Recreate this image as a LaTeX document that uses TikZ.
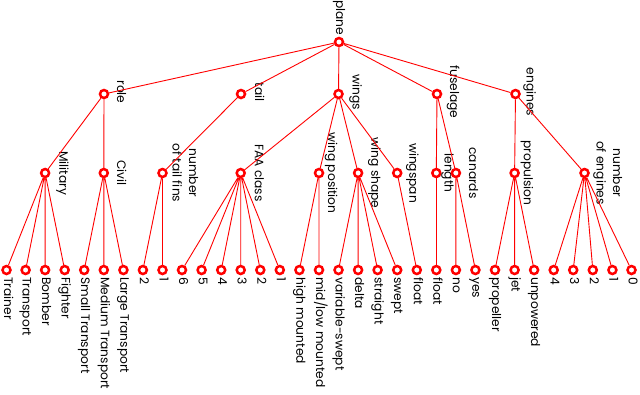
\documentclass[tikz,border=0pt]{standalone}
\usepackage{fontspec}
\setmainfont{Poppins}
\usepackage{tikz}
\usetikzlibrary{calc}

\begin{document}
\begin{tikzpicture}[
  x=1bp,y=-1bp,
  nd/.style={circle,draw=red,line width=2.5bp,fill=white,minimum size=8bp,inner sep=0pt},
  txt/.style={font=\fontsize{12.3}{16.5}\selectfont,rotate=-90,inner sep=0pt},
  side/.style={txt,anchor=south,text depth=0pt,align=center},
  lf/.style={txt,anchor=base west},
  ln/.style={red,line width=0.9bp}]
\useasboundingbox (0,0) rectangle (640,394);
% ---- root and first level ----
\node[nd] (plane) at (339,42) {};
\node[txt,anchor=base east] (tplane) at (336,35.5) {plane};
\node[nd] (role) at (104,94) {};
\node[side] (trole) at ($(role)+(13,-2)$) {role};
\node[nd] (tail) at (241,94) {};
\node[side] (ttail) at ($(tail)+(14,-2)$) {tail};
\node[nd] (wings) at (338.5,94) {};
\node[side] (twings) at ($(wings)+(14,-2)$) {wings};
\node[nd] (fuselage) at (437,94) {};
\node[side] (tfuselage) at ($(fuselage)+(13,-2)$) {fuselage};
\node[nd] (engines) at (515.5,94) {};
\node[side] (tengines) at ($(engines)+(11,-2)$) {engines};
% ---- second level ----
\node[nd] (military) at (45.1,173) {};
\node[side] (tmilitary) at ($(military)+(14,0)$) {Military};
\node[nd] (civil) at (103.8,173) {};
\node[side] (tcivil) at ($(civil)+(13,0)$) {Civil};
\node[nd] (tailfins) at (162.5,173) {};
\node[side] (ttailfins) at ($(tailfins)+(10,0)$) {number\\of tail fins};
\node[nd] (faa) at (240.7,173) {};
\node[side] (tfaa) at ($(faa)+(14,0)$) {FAA class};
\node[nd] (wingpos) at (319,173) {};
\node[side] (twingpos) at ($(wingpos)+(9,0)$) {wing position};
\node[nd] (wingshape) at (358.1,173) {};
\node[side] (twingshape) at ($(wingshape)+(13,0)$) {wing shape};
\node[nd] (wingspan) at (397.2,173) {};
\node[side] (twingspan) at ($(wingspan)+(12,0)$) {wingspan};
\node[nd] (length) at (436.3,173) {};
\node[side] (tlength) at ($(length)+(8,0)$) {length};
\node[nd] (canards) at (455.9,173) {};
\node[side] (tcanards) at ($(canards)+(13,0)$) {canards};
\node[nd] (propulsion) at (514.6,173) {};
\node[side] (tpropulsion) at ($(propulsion)+(9,0)$) {propulsion};
\node[nd] (numeng) at (584.5,173) {};
\node[side] (tnumeng) at ($(numeng)+(12,0)$) {number\\of engines};
% ---- leaves ----
\node[nd] (trainer) at (6.5,270) {};
\node[lf] (ttrainer) at ($(trainer)+(-2.5,7)$) {Trainer};
\node[nd] (transport) at (25.6,270) {};
\node[lf] (ttransport) at ($(transport)+(-3,7)$) {Transport};
\node[nd] (bomber) at (45.1,270) {};
\node[lf] (tbomber) at ($(bomber)+(-3,7)$) {Bomber};
\node[nd] (fighter) at (64.7,270) {};
\node[lf] (tfighter) at ($(fighter)+(-3,7)$) {Fighter};
\node[nd] (smalltr) at (84.2,270) {};
\node[lf] (tsmalltr) at ($(smalltr)+(-3,7)$) {Small Transport};
\node[nd] (mediumtr) at (103.8,270) {};
\node[lf] (tmediumtr) at ($(mediumtr)+(-3,7)$) {Medium Transport};
\node[nd] (largetr) at (123.4,270) {};
\node[lf] (tlargetr) at ($(largetr)+(-3,7)$) {Large Transport};
\node[nd] (fins2) at (142.9,270) {};
\node[lf] (tfins2) at ($(fins2)+(-3,7)$) {2};
\node[nd] (fins1) at (162.5,270) {};
\node[lf] (tfins1) at ($(fins1)+(-3,7)$) {1};
\node[nd] (faa6) at (182,270) {};
\node[lf] (tfaa6) at ($(faa6)+(-3,7)$) {6};
\node[nd] (faa5) at (201.6,270) {};
\node[lf] (tfaa5) at ($(faa5)+(-3,7)$) {5};
\node[nd] (faa4) at (221.2,270) {};
\node[lf] (tfaa4) at ($(faa4)+(-3,7)$) {4};
\node[nd] (faa3) at (240.7,270) {};
\node[lf] (tfaa3) at ($(faa3)+(-3,7)$) {3};
\node[nd] (faa2) at (260.3,270) {};
\node[lf] (tfaa2) at ($(faa2)+(-3,7)$) {2};
\node[nd] (faa1) at (279.8,270) {};
\node[lf] (tfaa1) at ($(faa1)+(-3,7)$) {1};
\node[nd] (high) at (299.4,270) {};
\node[lf] (thigh) at ($(high)+(-3,7)$) {high mounted};
\node[nd] (midlow) at (319,270) {};
\node[lf] (tmidlow) at ($(midlow)+(-3,7)$) {mid/low mounted};
\node[nd] (varswept) at (338.5,270) {};
\node[lf] (tvarswept) at ($(varswept)+(-3,7)$) {variable-swept};
\node[nd] (delta) at (358.1,270) {};
\node[lf] (tdelta) at ($(delta)+(-3,7)$) {delta};
\node[nd] (straight) at (377.6,270) {};
\node[lf] (tstraight) at ($(straight)+(-3,7)$) {straight};
\node[nd] (swept) at (397.2,270) {};
\node[lf] (tswept) at ($(swept)+(-3,7)$) {swept};
\node[nd] (spanfloat) at (416.8,270) {};
\node[lf] (tspanfloat) at ($(spanfloat)+(-3,7)$) {float};
\node[nd] (lenfloat) at (436.3,270) {};
\node[lf] (tlenfloat) at ($(lenfloat)+(-3,7)$) {float};
\node[nd] (no) at (455.9,270) {};
\node[lf] (tno) at ($(no)+(-3,7)$) {no};
\node[nd] (yes) at (475.4,270) {};
\node[lf] (tyes) at ($(yes)+(-3,7)$) {yes};
\node[nd] (propeller) at (495,270) {};
\node[lf] (tpropeller) at ($(propeller)+(-3,7)$) {propeller};
\node[nd] (jet) at (514.6,270) {};
\node[lf] (tjet) at ($(jet)+(-3,7)$) {jet};
\node[nd] (unpowered) at (534.1,270) {};
\node[lf] (tunpowered) at ($(unpowered)+(-3,7)$) {unpowered};
\node[nd] (eng4) at (553.7,270) {};
\node[lf] (teng4) at ($(eng4)+(-3,7)$) {4};
\node[nd] (eng3) at (573.2,270) {};
\node[lf] (teng3) at ($(eng3)+(-3,7)$) {3};
\node[nd] (eng2) at (592.8,270) {};
\node[lf] (teng2) at ($(eng2)+(-3,7)$) {2};
\node[nd] (eng1) at (612.4,270) {};
\node[lf] (teng1) at ($(eng1)+(-3,7)$) {1};
\node[nd] (eng0) at (631.5,270) {};
\node[lf] (teng0) at ($(eng0)+(-3,7)$) {0};
% ---- connectors ----
\draw[ln] (plane)--(role) (plane)--(tail) (plane)--(wings) (plane)--(fuselage) (plane)--(engines);
\draw[ln] (role)--(military) (role)--(civil);
\draw[ln] (tail)--(tailfins);
\draw[ln] (wings)--(faa) (wings)--(wingpos) (wings)--(wingshape) (wings)--(wingspan);
\draw[ln] (fuselage)--(length) (fuselage)--(canards);
\draw[ln] (engines)--(propulsion) (engines)--(numeng);
\draw[ln] (military)--(trainer) (military)--(transport) (military)--(bomber) (military)--(fighter);
\draw[ln] (civil)--(smalltr) (civil)--(mediumtr) (civil)--(largetr);
\draw[ln] (tailfins)--(fins2) (tailfins)--(fins1);
\draw[ln] (faa)--(faa6) (faa)--(faa5) (faa)--(faa4) (faa)--(faa3) (faa)--(faa2) (faa)--(faa1);
\draw[ln] (wingpos)--(high) (wingpos)--(midlow);
\draw[ln] (wingshape)--(varswept) (wingshape)--(delta) (wingshape)--(straight) (wingshape)--(swept);
\draw[ln] (wingspan)--(spanfloat);
\draw[ln] (length)--(lenfloat);
\draw[ln] (canards)--(no) (canards)--(yes);
\draw[ln] (propulsion)--(propeller) (propulsion)--(jet) (propulsion)--(unpowered);
\draw[ln] (numeng)--(eng4) (numeng)--(eng3) (numeng)--(eng2) (numeng)--(eng1) (numeng)--(eng0);
\end{tikzpicture}
\end{document}
